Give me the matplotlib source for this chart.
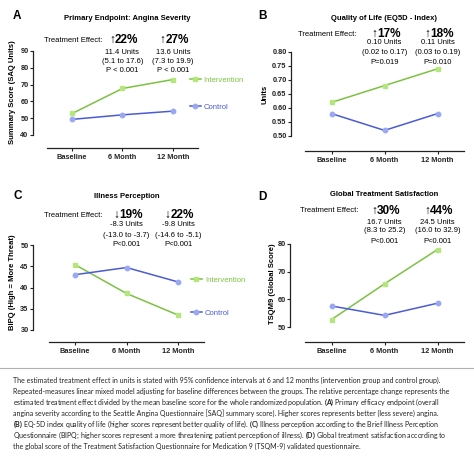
import matplotlib
matplotlib.use("Agg")
import matplotlib.pyplot as plt
import matplotlib.transforms as mtransforms
from matplotlib.lines import Line2D
import numpy as np

plt.rcParams['font.family'] = ['Liberation Sans', 'DejaVu Sans']
plt.rcParams['mathtext.fontset'] = 'custom'
plt.rcParams['mathtext.rm'] = 'Lato'
plt.rcParams['mathtext.bf'] = 'Lato:bold'

# ---- data ----
timepoints = ['Baseline', '6 Month', '12 Month']

saq_int = [52.8, 67.7, 73.0]
saq_ctl = [49.3, 52.0, 54.2]

eq5d_int = [0.62, 0.68, 0.74]
eq5d_ctl = [0.58, 0.52, 0.58]

bipq_int = [45.4, 38.6, 33.5]
bipq_ctl = [43.0, 44.7, 41.3]

tsqm_int = [52.7, 65.6, 78.0]
tsqm_ctl = [57.6, 54.2, 58.6]

# treatment effects: (arrow, percent, units, CI, p) at 6 and 12 months
eff_a = [('↑', '22%', '11.4 Units', '(5.1 to 17.6)', 'P < 0.001'),
         ('↑', '27%', '13.6 Units', '(7.3 to 19.9)', 'P < 0.001')]
eff_b = [('↑', '17%', '0.10 Units', '(0.02 to 0.17)', 'P=0.019'),
         ('↑', '18%', '0.11 Units', '(0.03 to 0.19)', 'P=0.010')]
eff_c = [('↓', '19%', '-8.3 Units', '(-13.0 to -3.7)', 'P<0.001'),
         ('↓', '22%', '-9.8 Units', '(-14.6 to -5.1)', 'P<0.001')]
eff_d = [('↑', '30%', '16.7 Units', '(8.3 to 25.2)', 'P<0.001'),
         ('↑', '44%', '24.5 Units', '(16.0 to 32.9)', 'P<0.001')]

caption = [
    "The estimated treatment effect in units is stated with 95% confidence intervals at 6 and 12 months (intervention group and control group).",
    "Repeated-measures linear mixed model adjusting for baseline differences between the groups. The relative percentage change represents the",
    "estimated treatment effect divided by the mean baseline score for the whole randomized population. $\\mathbf{(A)}$ Primary efficacy endpoint (overall",
    "angina severity according to the Seattle Angina Questionnaire [SAQ] summary score). Higher scores represents better (less severe) angina.",
    "$\\mathbf{(B)}$ EQ-5D index quality of life (higher scores represent better quality of life). $\\mathbf{(C)}$ Illness perception according to the Brief Illness Perception",
    "Questionnaire (BIPQ; higher scores represent a more threatening patient perception of illness). $\\mathbf{(D)}$ Global treatment satisfaction according to",
    "the global score of the Treatment Satisfaction Questionnaire for Medication 9 (TSQM-9) validated questionnaire.",
]

GREEN = '#7cc242'
GREEN_M = '#b5e67e'
BLUE = '#4a5bd6'
BLUE_M = '#9aa8f2'

W, H = 474, 462
fig = plt.figure(figsize=(W / 100, H / 100), dpi=100)


def fy(py):
    return 1 - py / H


def panel(x0, x1, ytop, ybot, yoff, xoff, yint, yctl, ylim, yticks, yfmt):
    ax = fig.add_axes([x0 / W, fy(ybot), (x1 - x0) / W, (ybot - ytop) / H])
    # spines first: moving them resets the ticks
    for s in ['top', 'right']:
        ax.spines[s].set_visible(False)
    ax.spines['left'].set_position(('outward', yoff * 0.72))
    ax.spines['bottom'].set_position(('outward', xoff * 0.72))
    x = np.arange(len(timepoints))
    li, = ax.plot(x, yint, '-', color=GREEN, lw=1.1, marker='s', ms=3.2,
                  mfc=GREEN_M, mec=GREEN_M, clip_on=False)
    lc, = ax.plot(x, yctl, '-', color=BLUE, lw=1.1, marker='o', ms=3.2,
                  mfc=BLUE_M, mec=BLUE_M, clip_on=False)
    ax.set_xlim(-0.5, 2.5)
    ax.set_ylim(*ylim)
    ax.spines['left'].set_bounds(*ylim)
    for s in ['left', 'bottom']:
        ax.spines[s].set_linewidth(0.9)
        ax.spines[s].set_color('#222222')
    ax.set_xticks(x)
    ax.set_xticklabels(timepoints)
    ax.set_yticks(yticks)
    ax.set_yticklabels([yfmt % v for v in yticks])
    ax.tick_params(axis='both', length=2.2, width=0.8, pad=1.0,
                   colors='#222222', labelsize=5.3)
    ax.tick_params(axis='x', pad=2.2)
    for t in ax.get_xticklabels() + ax.get_yticklabels():
        t.set_fontweight('bold')
    ax.patch.set_alpha(0)
    return ax, li, lc


def effects(ax, eff, te_right, ys):
    tr = mtransforms.blended_transform_factory(ax.transData, fig.transFigure)
    fig.text(te_right / W, fy(ys[0]), 'Treatment Effect:', fontsize=5.5,
             ha='right', va='center')
    for i, (arr, pct, units, ci, p) in enumerate(eff):
        xc = i + 1
        off = mtransforms.offset_copy(tr, fig=fig, x=-5.5, y=0, units='points')
        ax.text(xc, fy(ys[0]), arr, transform=off, fontsize=8.5, ha='right',
                va='center')
        ax.text(xc, fy(ys[0]), pct, transform=off, fontsize=8.5,
                fontweight='bold', ha='left', va='center')
        for txt, yy in zip([units, ci, p], ys[1:]):
            ax.text(xc, fy(yy), txt, transform=tr, fontsize=5.5, ha='center',
                    va='center')


def legend_at(handle, label, x, y):
    fig.legend(handles=[handle], labels=[label], loc='center left',
               bbox_to_anchor=(x / W, fy(y)), frameon=False, fontsize=5.5,
               borderpad=0, borderaxespad=0, handlelength=1.4,
               handletextpad=0.4, labelcolor='linecolor')


# ---- A ----
axA, liA, lcA = panel(47, 198, 51, 135, 14, 13, saq_int, saq_ctl, (40, 90),
                      [40, 50, 60, 70, 80, 90], '%d')
fig.text(13 / W, fy(16), 'A', fontsize=8.5, fontweight='bold', ha='left', va='center')
fig.text(127 / W, fy(18), 'Primary Endpoint: Angina Severity', fontsize=5.5,
         fontweight='bold', ha='center', va='center')
effects(axA, eff_a, 103, [40, 52, 61.5, 71])
fig.text(13 / W, fy(92), 'Summary Score (SAQ Units)', fontsize=5.5,
         fontweight='bold', rotation=90, ha='center', va='center')
legend_at(liA, 'Intervention', 190, 80)
legend_at(lcA, 'Control', 190, 107)

# ---- B ----
axB, liB, lcB = panel(305, 464, 52, 136, 14, 15, eq5d_int, eq5d_ctl, (0.50, 0.80),
                      [0.50, 0.55, 0.60, 0.65, 0.70, 0.75, 0.80], '%.2f')
fig.text(258 / W, fy(16), 'B', fontsize=8.5, fontweight='bold', ha='left', va='center')
fig.text(384 / W, fy(18), 'Quality of Life (EQ5D - Index)', fontsize=5.5,
         fontweight='bold', ha='center', va='center')
effects(axB, eff_b, 357, [34, 43, 52.5, 62])
fig.text(265 / W, fy(94), 'Units', fontsize=5.5, fontweight='bold',
         rotation=90, ha='center', va='center')

# ---- C ----
axC, liC, lcC = panel(49, 204, 245, 330, 16, 12, bipq_int, bipq_ctl, (30, 50),
                      [30, 35, 40, 45, 50], '%d')
fig.text(13 / W, fy(196), 'C', fontsize=8.5, fontweight='bold', ha='left', va='center')
fig.text(127 / W, fy(196), 'Illness Perception', fontsize=5.5,
         fontweight='bold', ha='center', va='center')
effects(axC, eff_c, 103, [215, 225, 235, 244])
fig.text(13 / W, fy(282), 'BIPQ (High = More Threat)', fontsize=5.5,
         fontweight='bold', rotation=90, ha='center', va='center')
legend_at(liC, 'Intervention', 191, 280)
legend_at(lcC, 'Control', 191, 313)

# ---- D ----
axD, liD, lcD = panel(305, 464, 244, 327, 15, 15, tsqm_int, tsqm_ctl, (50, 80),
                      [50, 60, 70, 80], '%d')
fig.text(258 / W, fy(197), 'D', fontsize=8.5, fontweight='bold', ha='left', va='center')
fig.text(384 / W, fy(194), 'Global Treatment Satisfaction', fontsize=5.5,
         fontweight='bold', ha='center', va='center')
effects(axD, eff_d, 358, [211, 222, 231, 241])
fig.text(273 / W, fy(284), 'TSQM9 (Global Score)', fontsize=5.5,
         fontweight='bold', rotation=90, ha='center', va='center')

# ---- caption ----
fig.add_artist(Line2D([0, 1], [fy(368), fy(368)], transform=fig.transFigure,
                      color='#b0b0b0', lw=0.8))
for i, line in enumerate(caption):
    fig.text(13 / W, fy(380.5 + i * 11), line, fontsize=5.0, family='Lato',
             ha='left', va='center', color='#222222')

fig.savefig('out.png', dpi=100)
